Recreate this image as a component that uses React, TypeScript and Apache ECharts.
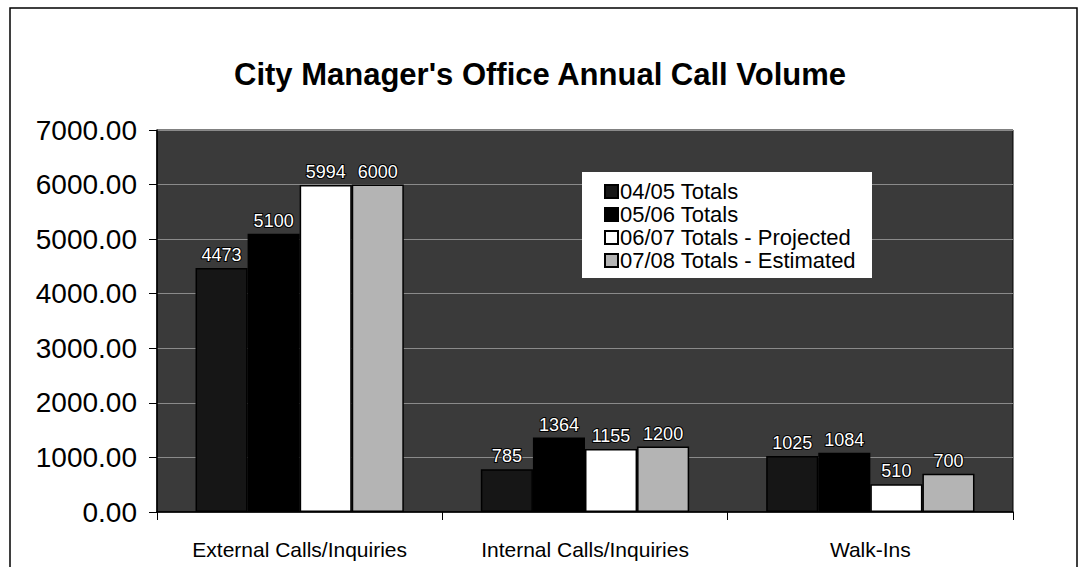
import React, { useEffect, useRef } from "react";
import * as echarts from "echarts";

const categories = ["External Calls/Inquiries", "Internal Calls/Inquiries", "Walk-Ins"];
const seriesNames = ["04/05 Totals", "05/06 Totals", "06/07 Totals - Projected", "07/08 Totals - Estimated"];
const totals0405 = [4473, 785, 1025];
const totals0506 = [5100, 1364, 1084];
const totals0607 = [5994, 1155, 510];
const totals0708 = [6000, 1200, 700];
const yTicks = { min: 0, max: 7000, interval: 1000 };

const seriesData = [totals0405, totals0506, totals0607, totals0708];
const seriesColors = ["#161616", "#000000", "#ffffff", "#b4b4b4"];

export default function App() {
  const ref = useRef<HTMLDivElement>(null);
  useEffect(() => {
    if (!ref.current) return;
    const chart = echarts.init(ref.current, null, { renderer: "svg" });
    const font = "Liberation Sans, Arial, sans-serif";
    chart.setOption({
      animation: false,
      backgroundColor: "#ffffff",
      title: {
        text: "City Manager's Office Annual Call Volume",
        left: "center",
        top: 54,
        textStyle: { fontFamily: font, fontSize: 31, fontWeight: "bold", color: "#000" },
      },
      graphic: [
        {
          type: "rect",
          shape: { x: 10, y: 8, width: 1067, height: 575 },
          style: { fill: "none", stroke: "#000", lineWidth: 1.5 },
          silent: true,
          z: -1,
        },
      ],
      legend: {
        orient: "vertical",
        left: 582,
        top: 172,
        padding: [8, 16, 6, 22],
        backgroundColor: "#ffffff",
        itemWidth: 13,
        itemHeight: 13,
        itemGap: 0,
        icon: "rect",
        textStyle: { fontFamily: font, fontSize: 22, lineHeight: 23, color: "#000", padding: [0, 0, 0, -3] },
        data: seriesNames,
      },
      grid: {
        left: 157,
        right: 67,
        top: 130,
        bottom: 55,
        show: true,
        backgroundColor: "#3a3a3a",
        borderColor: "#000",
        borderWidth: 1,
      },
      xAxis: {
        type: "category",
        data: categories,
        axisLine: { lineStyle: { color: "#000", width: 1.5 } },
        axisTick: { show: true, length: 8, lineStyle: { color: "#000" } },
        axisLabel: { fontFamily: font, fontSize: 21, color: "#000", margin: 27 },
      },
      yAxis: {
        type: "value",
        min: yTicks.min,
        max: yTicks.max,
        interval: yTicks.interval,
        axisLine: { show: true, lineStyle: { color: "#000", width: 1.5 } },
        axisTick: { show: true, length: 8, lineStyle: { color: "#000" } },
        axisLabel: {
          fontFamily: font,
          fontSize: 28,
          color: "#000",
          margin: 20,
          formatter: (v: number) => v.toFixed(2),
        },
        splitLine: { show: true, lineStyle: { color: "#8a8a8a", width: 1 } },
      },
      series: seriesData.map((d, i) => ({
        name: seriesNames[i],
        type: "bar",
        data: d,
        barGap: "0%",
        barCategoryGap: "27%",
        itemStyle: { color: seriesColors[i], borderColor: "#000", borderWidth: 1.5 },
        label: {
          show: true,
          position: "top",
          distance: 4,
          fontFamily: font,
          fontSize: 18,
          color: "#ffffff",
          textBorderColor: "#000",
          textBorderWidth: 2,
        },
      })),
    });
    return () => chart.dispose();
  }, []);
  return (
    <div
      ref={ref}
      style={{ position: "absolute", left: 0, top: 0, width: 1080, height: 567 }}
    />
  );
}
